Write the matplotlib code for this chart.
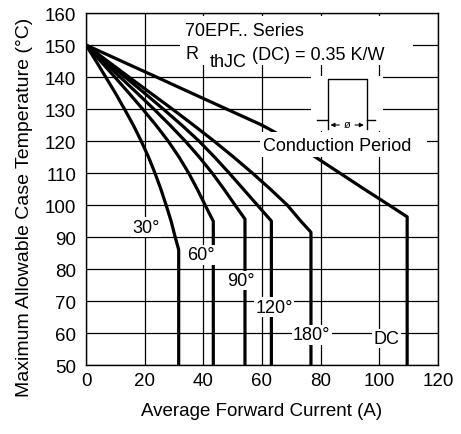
import matplotlib
matplotlib.use("Agg")
import matplotlib.pyplot as plt
from matplotlib.patches import Rectangle

plt.rcParams['font.family'] = ['Liberation Sans', 'DejaVu Sans']

# ---- data ----
temps_common = [150, 145, 140, 135, 130, 125, 120, 115, 110, 105, 100]
curve_labels = ["30°", "60°", "90°", "120°", "180°", "DC"]
currents = {
    "30°":  [0, 3.4, 6.7, 10.0, 13.1, 16.1, 18.8, 21.3, 23.5, 25.5, 27.3],
    "60°":  [0, 4.9, 9.8, 14.6, 19.3, 23.8, 28.0, 31.7, 35.0, 37.9, 40.6],
    "90°":  [0, 5.8, 11.6, 17.4, 23.1, 28.6, 33.8, 38.6, 43.0, 47.0, 50.8],
    "120°": [0, 6.7, 13.3, 19.9, 26.3, 32.6, 38.5, 43.8, 48.8, 53.6, 58.4],
    "180°": [0, 7.3, 14.6, 22.0, 29.4, 36.6, 43.6, 50.3, 56.7, 62.8, 68.6],
    "DC":   [0, 12.0, 24.0, 35.9, 47.9, 59.9, 69.9, 78.2, 86.5, 94.8, 103.3],
}
# extra readings below 100 °C
extra_temps = {"30°": [95, 90], "180°": [95]}
extra_currents = {"30°": [29.0, 30.4], "180°": [73.2]}

bend_current = {"30°": 31.6, "60°": 43.4, "90°": 54.2, "120°": 63.2, "180°": 76.7, "DC": 109.5}
bend_temp = {"30°": 86.0, "60°": 94.9, "90°": 95.6, "120°": 95.0, "180°": 91.5, "DC": 96.3}
floor_temp = 50

label_pos = {"30°": (20.4, 93.0), "60°": (39.2, 84.4), "90°": (52.8, 76.4),
             "120°": (64.2, 68.0), "180°": (77.0, 59.4), "DC": (102.5, 58.3)}

x_ticks = [0, 20, 40, 60, 80, 100, 120]
y_ticks = [50, 60, 70, 80, 90, 100, 110, 120, 130, 140, 150, 160]

# ---- figure ----
fig = plt.figure(figsize=(4.61, 4.35), dpi=100)
ax = fig.add_axes([0.1866, 0.1586, 0.7634, 0.8092])
ax.set_xlim(0, 120)
ax.set_ylim(50, 160)
ax.set_xticks(x_ticks)
ax.set_yticks(y_ticks)
ax.tick_params(axis='both', length=0, labelsize=13.5)
ax.tick_params(axis='y', pad=7)
ax.tick_params(axis='x', pad=5)
ax.grid(True, color='black', linewidth=0.9, zorder=1)
ax.set_axisbelow(True)
for s in ax.spines.values():
    s.set_linewidth(1.0)
    s.set_color('black')

for lab in curve_labels:
    xs = list(currents[lab]) + extra_currents.get(lab, [])
    ys = list(temps_common) + extra_temps.get(lab, [])
    xs += [bend_current[lab], bend_current[lab]]
    ys += [bend_temp[lab], floor_temp]
    ax.plot(xs, ys, color='black', linewidth=2.3, zorder=3,
            solid_joinstyle='round', solid_capstyle='butt')

for lab in curve_labels:
    x, y = label_pos[lab]
    ax.text(x, y, lab, fontsize=13, ha='center', va='center', zorder=6,
            bbox=dict(facecolor='white', edgecolor='none', pad=1.0))

# title block
ax.add_patch(Rectangle((32, 143.8), 79.5, 15.3, facecolor='white', edgecolor='none', zorder=2))
ax.text(33.8, 154.4, "70EPF.. Series", fontsize=13, ha='left', va='center', zorder=6)
ax.text(33.8, 147.2, "R", fontsize=13, ha='left', va='center', zorder=6)
ax.text(42.3, 144.9, "thJC", fontsize=13, ha='left', va='center', zorder=6)
ax.text(56.5, 146.9, "(DC) = 0.35 K/W", fontsize=13, ha='left', va='center', zorder=6)

# conduction period inset
ax.add_patch(Rectangle((76.8, 123.2), 24.4, 17.2, facecolor='white', edgecolor='none', zorder=2))
ax.plot([78.6, 82.4, 82.4, 95.7, 95.7, 98.5],
        [126.6, 126.6, 139.4, 139.4, 126.6, 126.6], color='black', linewidth=1.0, zorder=3)
ax.plot([82.4, 82.4], [126.6, 123.8], color='black', linewidth=1.0, zorder=3)
ax.plot([95.7, 95.7], [126.6, 123.8], color='black', linewidth=1.0, zorder=3)
ax.annotate("", xy=(82.4, 125.0), xytext=(87.3, 125.0),
            arrowprops=dict(arrowstyle='-|>', color='black', lw=0.8, mutation_scale=6), zorder=4)
ax.annotate("", xy=(95.7, 125.0), xytext=(90.8, 125.0),
            arrowprops=dict(arrowstyle='-|>', color='black', lw=0.8, mutation_scale=6), zorder=4)
ax.text(89.05, 125.2, "ø", fontsize=8, ha='center', va='center', zorder=5)

ax.add_patch(Rectangle((59.3, 115.0), 56.8, 7.8, facecolor='white', edgecolor='none', zorder=4))
ax.text(60.2, 118.5, "Conduction Period", fontsize=13, ha='left', va='center', zorder=6)

ax.set_xlabel("Average Forward Current (A)", fontsize=13.5)
ax.xaxis.set_label_coords(0.5, -0.105)
ax.set_ylabel("Maximum Allowable Case Temperature (°C)", fontsize=14)
ax.yaxis.set_label_coords(-0.15, 0.45)

fig.savefig("out.png", dpi=100)
